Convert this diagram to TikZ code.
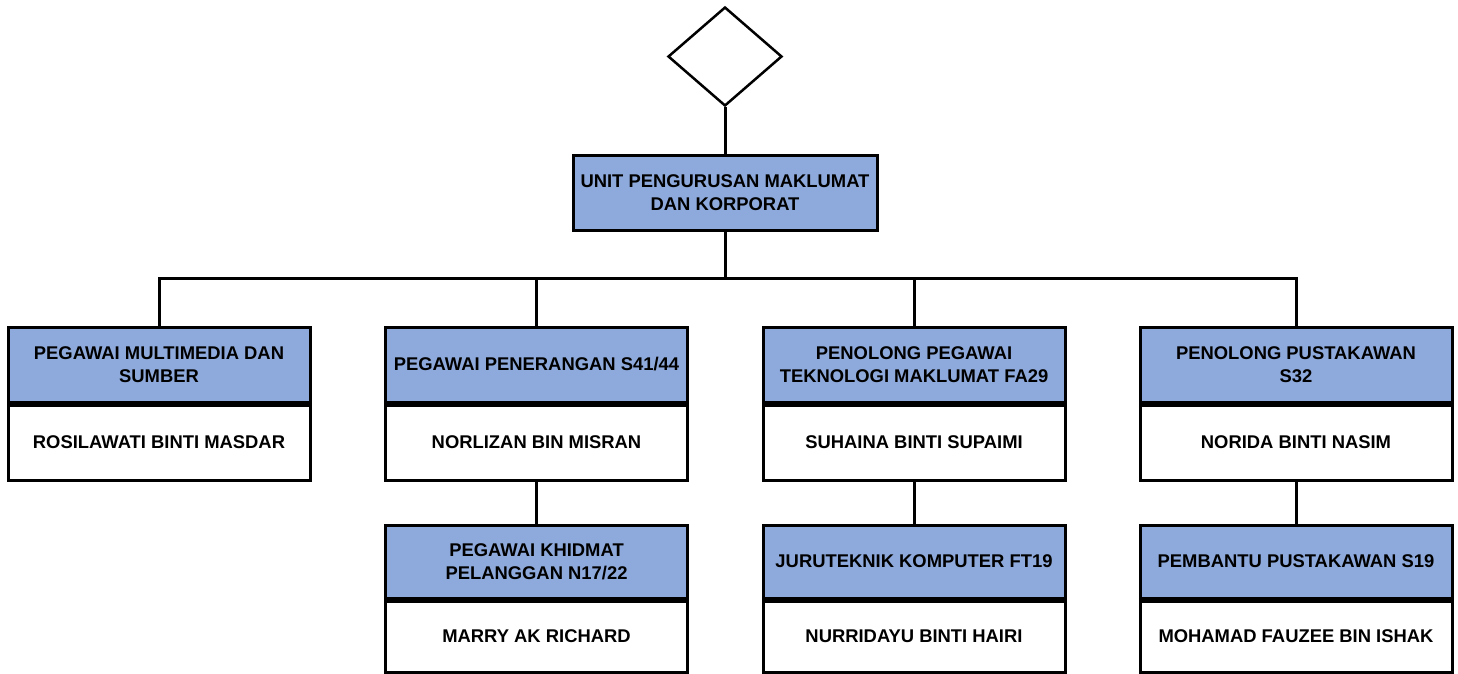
\documentclass[tikz,border=0pt]{standalone}
\usepackage{fontspec}
\setmainfont{Liberation Sans}
\usetikzlibrary{shapes.geometric}
\definecolor{hdrblue}{RGB}{142,169,219}
\tikzset{
  conn/.style={line width=3pt},
  hdrbox/.style={draw, line width=3pt, fill=hdrblue, minimum width=#1pt, minimum height=75pt, inner sep=0pt, align=center, font=\fontsize{18.4}{23}\selectfont\bfseries},
  bodybox/.style={draw, line width=3pt, fill=white, minimum width=#1pt, minimum height=75pt, inner sep=0pt, align=center, font=\fontsize{18.4}{23}\selectfont\bfseries},
}
\begin{document}
\begin{tikzpicture}[x=1pt,y=-1pt]
\useasboundingbox (0,0) rectangle (1458,673);
% diamond
\node[draw, line width=2.5pt, shape=diamond, minimum width=114pt, minimum height=99pt, inner sep=0pt] (top) at (725,56.5) {};
% main box
\node[hdrbox=304, minimum height=75pt] (main) at (725,192.5) {UNIT PENGURUSAN MAKLUMAT\\DAN KORPORAT};
\coordinate (bus) at (725,278);
% first row headers
\node[hdrbox=302] (h1) at (159,364.5) {PEGAWAI MULTIMEDIA DAN\\SUMBER};
\node[hdrbox=302] (h2) at (536.5,364.5) {PEGAWAI PENERANGAN S41/44};
\node[hdrbox=302] (h3) at (914,364.5) {PENOLONG PEGAWAI\\TEKNOLOGI MAKLUMAT FA29};
\node[hdrbox=312] (h4) at (1296,364.5) {PENOLONG PUSTAKAWAN\\S32};
% first row bodies
\node[bodybox=302, anchor=north] (b1) at (h1.south) {ROSILAWATI BINTI MASDAR};
\node[bodybox=302, anchor=north] (b2) at (h2.south) {NORLIZAN BIN MISRAN};
\node[bodybox=302, anchor=north] (b3) at (h3.south) {SUHAINA BINTI SUPAIMI};
\node[bodybox=312, anchor=north] (b4) at (h4.south) {NORIDA BINTI NASIM};
% second row headers
\node[hdrbox=302, minimum height=73pt] (l2) at (536.5,561.5) {PEGAWAI KHIDMAT\\PELANGGAN N17/22};
\node[hdrbox=302, minimum height=73pt] (l3) at (914,561.5) {JURUTEKNIK KOMPUTER FT19};
\node[hdrbox=312, minimum height=73pt] (l4) at (1296,561.5) {PEMBANTU PUSTAKAWAN S19};
% second row bodies
\node[bodybox=302, minimum height=71pt, anchor=north] (m2) at (l2.south) {MARRY AK RICHARD};
\node[bodybox=302, minimum height=71pt, anchor=north] (m3) at (l3.south) {NURRIDAYU BINTI HAIRI};
\node[bodybox=312, minimum height=71pt, anchor=north] (m4) at (l4.south) {MOHAMAD FAUZEE BIN ISHAK};
% connectors
\draw[conn] (top.south) -- (main.north);
\draw[conn] (main.south) -- (bus);
\draw[conn] (h1.north) |- (bus);
\draw[conn] (h2.north) |- (bus);
\draw[conn] (h3.north) |- (bus);
\draw[conn] (h4.north) |- (bus);
\draw[conn] (b2.south) -- (l2.north);
\draw[conn] (b3.south) -- (l3.north);
\draw[conn] (b4.south) -- (l4.north);
\end{tikzpicture}
\end{document}
